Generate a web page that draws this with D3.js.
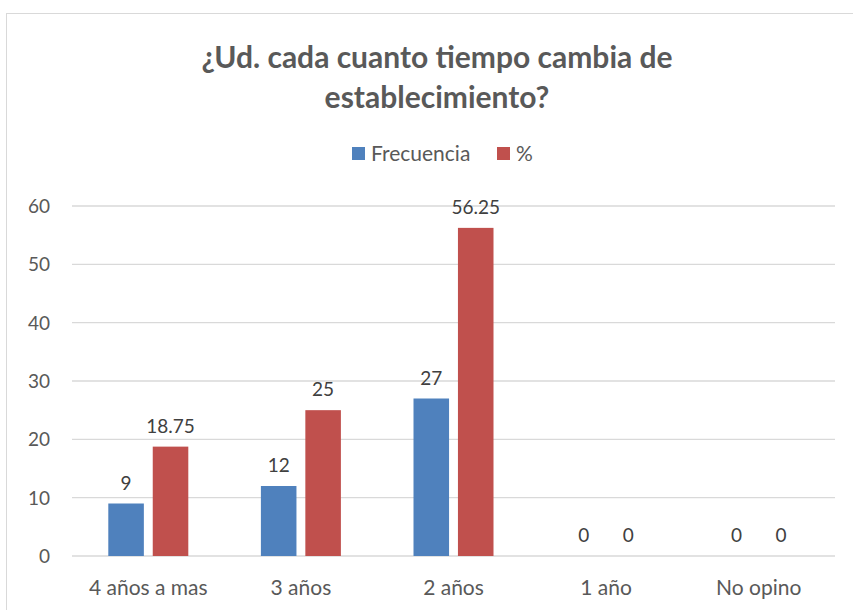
<!DOCTYPE html>
<html>
<head>
<meta charset="utf-8">
<script src="https://cdn.jsdelivr.net/npm/d3@7"></script>
<style>
  body { margin: 0; background: #fff; }
  text { font-family: Lato, "Open Sans", sans-serif; }
</style>
</head>
<body>
<div id="chart"></div>
<script>
const categories = ["4 años a mas", "3 años", "2 años", "1 año", "No opino"];
const seriesNames = ["Frecuencia", "%"];
const frecuencia = [9, 12, 27, 0, 0];
const porcentaje = [18.75, 25, 56.25, 0, 0];
const yTicks = [0, 10, 20, 30, 40, 50, 60];
const colors = ["#4f81bd", "#c0504d"];

const width = 853, height = 610;
const margin = { left: 72, right: 18, top: 206, bottom: 54 };

const svg = d3.select("#chart").append("svg")
  .attr("width", width).attr("height", height);

// outer border of the chart area
svg.append("rect")
  .attr("x", 6.5).attr("y", 13.5)
  .attr("width", 860).attr("height", 620)
  .attr("fill", "none").attr("stroke", "#d9d9d9");

svg.append("text")
  .attr("x", 437).attr("y", 68)
  .attr("text-anchor", "middle")
  .attr("font-size", 30).attr("font-weight", "bold")
  .attr("fill", "#595959")
  .text("¿Ud. cada cuanto tiempo cambia de");
svg.append("text")
  .attr("x", 437).attr("y", 108)
  .attr("text-anchor", "middle")
  .attr("font-size", 30).attr("font-weight", "bold")
  .attr("fill", "#595959")
  .text("establecimiento?");

const x = d3.scaleBand()
  .domain(categories)
  .range([margin.left, width - margin.right]);

const y = d3.scaleLinear()
  .domain([0, 60])
  .range([height - margin.bottom, margin.top]);

const x1 = d3.scaleBand()
  .domain(seriesNames)
  .range([x.bandwidth() / 2 - 40, x.bandwidth() / 2 + 40])
  .paddingInner(0.2);

// gridlines
svg.append("g")
  .selectAll("line")
  .data(yTicks)
  .join("line")
  .attr("x1", margin.left).attr("x2", width - margin.right)
  .attr("y1", d => y(d)).attr("y2", d => y(d))
  .attr("stroke", "#d9d9d9").attr("stroke-width", 1.3);

// y axis labels
svg.append("g")
  .selectAll("text")
  .data(yTicks)
  .join("text")
  .attr("x", 50).attr("y", d => y(d) + 7)
  .attr("text-anchor", "end")
  .attr("font-size", 19).attr("fill", "#595959")
  .text(d => d);

// x axis labels
svg.append("g")
  .selectAll("text")
  .data(categories)
  .join("text")
  .attr("x", d => x(d) + x.bandwidth() / 2)
  .attr("y", 595)
  .attr("text-anchor", "middle")
  .attr("font-size", 21).attr("fill", "#595959")
  .text(d => d);

const series = [frecuencia, porcentaje];
series.forEach((vals, si) => {
  const g = svg.append("g");
  g.selectAll("rect")
    .data(vals)
    .join("rect")
    .attr("x", (d, i) => x(categories[i]) + x1(seriesNames[si]))
    .attr("y", d => y(d))
    .attr("width", x1.bandwidth())
    .attr("height", d => y(0) - y(d))
    .attr("fill", colors[si]);
  g.selectAll("text")
    .data(vals)
    .join("text")
    .attr("x", (d, i) => x(categories[i]) + x1(seriesNames[si]) + x1.bandwidth() / 2)
    .attr("y", d => y(d) - 14)
    .attr("text-anchor", "middle")
    .attr("font-size", 19).attr("fill", "#404040")
    .text(d => d);
});

// legend
const legend = svg.append("g").attr("transform", "translate(352,147)");
const legX = [0, 145];
seriesNames.forEach((n, i) => {
  legend.append("rect")
    .attr("x", legX[i]).attr("y", 0)
    .attr("width", 13).attr("height", 13)
    .attr("fill", colors[i]);
  legend.append("text")
    .attr("x", legX[i] + 19).attr("y", 14)
    .attr("font-size", 21).attr("fill", "#595959")
    .text(n);
});
</script>
</body>
</html>
